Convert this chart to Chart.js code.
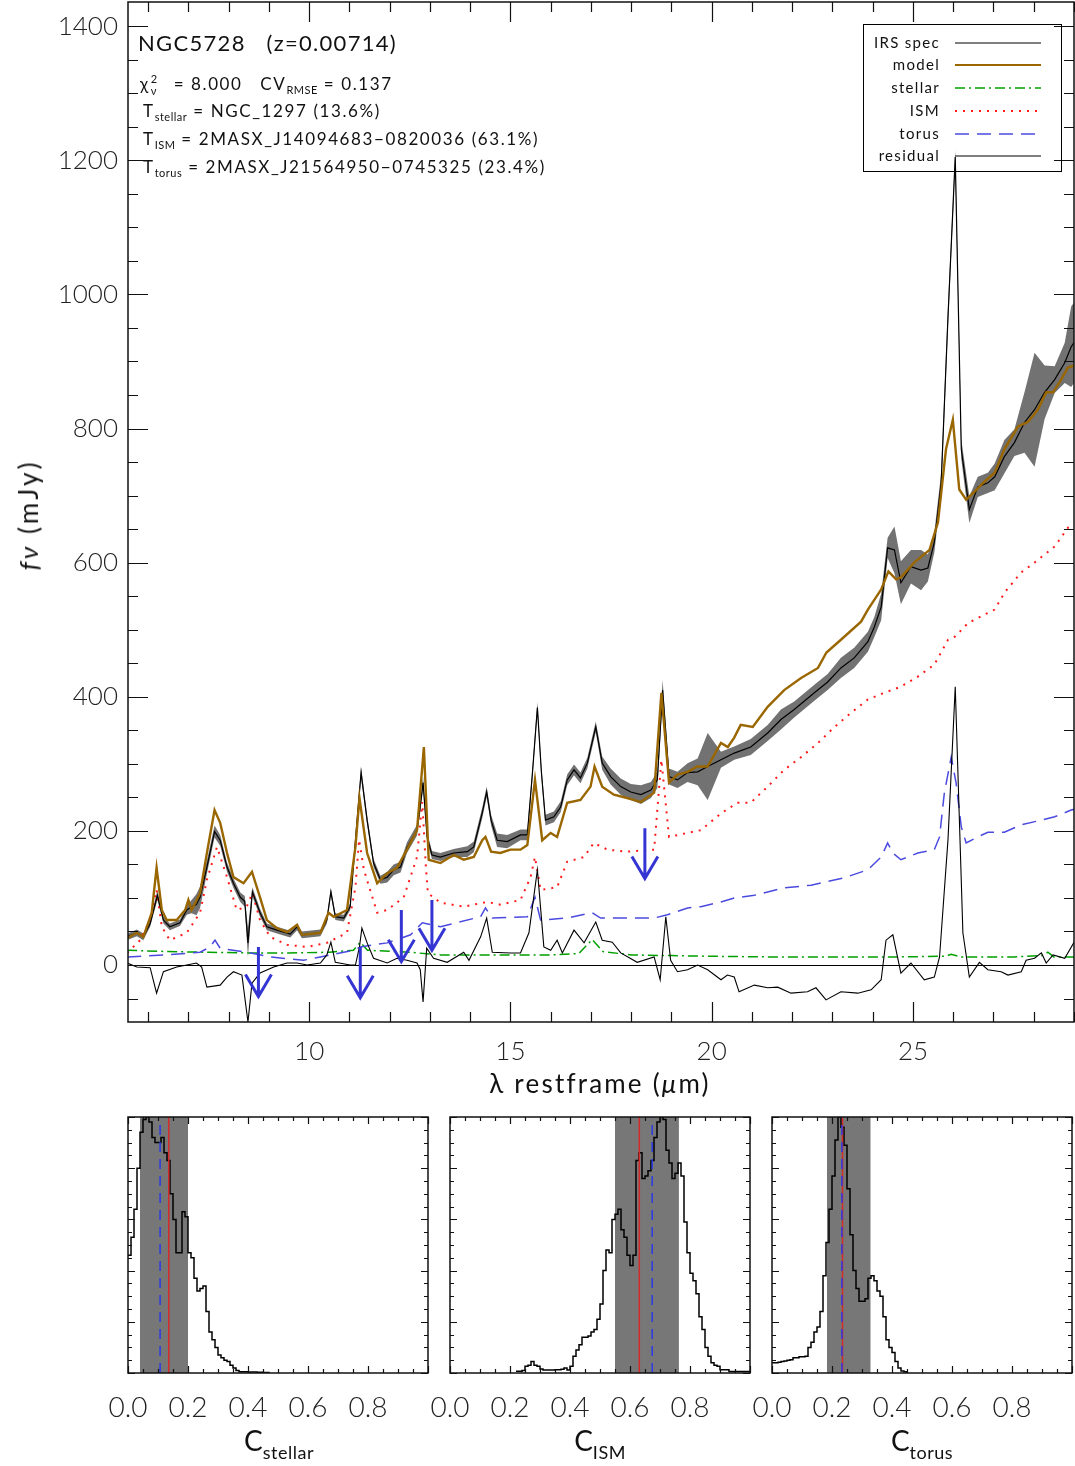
<!DOCTYPE html>
<html>
<head>
<meta charset="utf-8">
<script src="https://cdn.jsdelivr.net/npm/chart.js@4.4.1/dist/chart.umd.min.js"></script>
<style>
  body { margin: 0; background: #fff; width: 1075px; height: 1466px; overflow: hidden; position: relative;
         font-family: Lato, "DejaVu Sans", sans-serif; color: #111; }
  canvas { position: absolute; }
  .t { position: absolute; white-space: pre; line-height: 1; }
  .t sub { font-size: 11px; vertical-align: -4px; letter-spacing: 0.5px; }
  .big sub { font-size: 18px; vertical-align: -8px; }
  .info { font-size: 17px; letter-spacing: 1.6px; }
  .ss { display: inline-block; position: relative; width: 12px; height: 10px; }
  .ss span { position: absolute; left: 1px; font-size: 11px; }
  #legend { position: absolute; left: 863px; top: 24px; width: 197px; height: 146px; border: 1px solid #000; }
  #legend .lab { position: absolute; left: 0; width: 76px; text-align: right; font-size: 15px; line-height: 1; letter-spacing: 1.3px; }
  #legend svg { position: absolute; left: 91px; }
</style>
</head>
<body>
<canvas id="main" width="1075" height="1100" style="left:0;top:0"></canvas>
<canvas id="histStellar" width="333" height="330" style="left:98px;top:1100px"></canvas>
<canvas id="histIsm" width="333" height="330" style="left:420px;top:1100px"></canvas>
<canvas id="histTorus" width="333" height="330" style="left:742px;top:1100px"></canvas>

<div class="t" style="left:138px;top:32px;font-size:22px;letter-spacing:1.3px">NGC5728   (z=0.00714)</div>
<div class="t info" style="left:140px;top:75px">χ<span class="ss"><span style="top:-7px">2</span><span style="top:5px">ν</span></span>  = 8.000   CV<sub>RMSE</sub> = 0.137</div>
<div class="t info" style="left:143px;top:102px">T<sub>stellar</sub> = NGC_1297 (13.6%)</div>
<div class="t info" style="left:143px;top:130px">T<sub>ISM</sub> = 2MASX_J14094683−0820036 (63.1%)</div>
<div class="t info" style="left:143px;top:158px">T<sub>torus</sub> = 2MASX_J21564950−0745325 (23.4%)</div>

<div id="legend">
  <div class="lab" style="top:10px">IRS spec</div>
  <svg style="top:16px" width="86" height="4"><line x1="0" y1="2" x2="86" y2="2" stroke="#000" stroke-width="1.2"/></svg>
  <div class="lab" style="top:32px">model</div>
  <svg style="top:38px" width="86" height="4"><line x1="0" y1="2" x2="86" y2="2" stroke="#996600" stroke-width="2.2"/></svg>
  <div class="lab" style="top:55px">stellar</div>
  <svg style="top:61px" width="86" height="4"><line x1="0" y1="2" x2="86" y2="2" stroke="#00a000" stroke-width="1.5" stroke-dasharray="10 4 2 4"/></svg>
  <div class="lab" style="top:78px">ISM</div>
  <svg style="top:84px" width="86" height="4"><line x1="0" y1="2" x2="86" y2="2" stroke="#ff1a1a" stroke-width="2" stroke-dasharray="2 6"/></svg>
  <div class="lab" style="top:101px">torus</div>
  <svg style="top:107px" width="86" height="4"><line x1="0" y1="2" x2="86" y2="2" stroke="#4a4ae0" stroke-width="1.5" stroke-dasharray="14 8"/></svg>
  <div class="lab" style="top:123px">residual</div>
  <svg style="top:129px" width="86" height="4"><line x1="0" y1="2" x2="86" y2="2" stroke="#000" stroke-width="1.2"/></svg>
</div>

<div class="t" style="left:28px;top:515px;font-size:26px;letter-spacing:3px;transform:translate(-50%,-50%) rotate(-90deg)"><i>fν</i> (mJy)</div>
<div class="t" style="left:600px;top:1083px;font-size:26px;letter-spacing:2.2px;transform:translate(-50%,-50%)">λ restframe (<i>μ</i>m)</div>
<div class="t big" style="left:279px;top:1443px;font-size:28px;transform:translate(-50%,-50%)">C<sub>stellar</sub></div>
<div class="t big" style="left:600px;top:1443px;font-size:28px;transform:translate(-50%,-50%)">C<sub>ISM</sub></div>
<div class="t big" style="left:922px;top:1443px;font-size:28px;transform:translate(-50%,-50%)">C<sub>torus</sub></div>

<script>
// IRS spectrum (mJy) and its 1-sigma error
const irsWave = [5.48,5.72,5.88,6.05,6.23,6.38,6.54,6.79,6.96,7.08,
  7.20,7.29,7.46,7.65,7.79,7.96,8.12,8.29,8.40,8.48,
  8.59,8.78,8.95,9.20,9.53,9.70,9.82,10.28,10.44,10.54,
  10.65,10.86,11.02,11.17,11.29,11.44,11.60,11.77,11.94,12.10,
  12.27,12.43,12.68,12.76,12.83,12.93,13.05,13.26,13.59,13.93,
  14.09,14.30,14.41,14.52,14.67,14.92,15.25,15.42,15.54,15.67,
  15.77,15.87,16.08,16.25,16.41,16.58,16.74,16.91,17.12,17.28,
  17.49,17.74,17.99,18.24,18.49,18.65,18.78,18.94,19.15,19.40,
  19.65,19.90,20.23,20.56,20.97,21.39,21.72,22.05,22.55,22.88,
  23.21,23.54,23.88,24.04,24.21,24.37,24.54,24.70,24.95,25.20,
  25.37,25.53,25.70,25.87,26.05,26.20,26.40,26.61,26.86,27.03,
  27.27,27.52,27.77,28.02,28.27,28.52,28.77,28.93,29.06];
const irsFlux = [42,48,42,62,104,67,57,63,82,87,
  90,101,146,199,186,146,122,101,95,33,
  109,78,57,52,46,57,45,48,67,109,
  72,70,87,201,287,216,152,127,131,142,
  146,175,201,236,272,191,164,161,167,169,
  176,227,258,216,186,184,194,194,281,384,
  287,216,221,236,276,291,279,301,355,301,
  281,266,258,254,261,276,410,281,276,287,
  288,296,306,316,325,346,366,381,406,422,
  443,458,482,504,534,622,619,570,594,589,
  592,630,719,967,1205,769,679,713,719,728,
  758,779,809,828,854,873,898,922,933];
const irsErr = [5,5,5,5,7,5,5,5,7,10,
  16,16,10,9,8,7,7,7,8,22,
  7,6,5,5,5,5,5,5,5,5,
  5,5,5,7,8,7,6,6,8,8,
  8,8,8,8,9,7,6,6,6,8,
  8,8,8,8,10,10,8,8,8,8,
  8,8,8,8,8,8,8,8,8,10,
  12,12,12,14,12,12,15,12,12,14,
  20,50,12,10,12,12,15,12,12,12,
  15,15,15,15,20,15,35,32,25,30,
  20,15,15,15,10,15,20,15,15,20,
  25,20,45,85,40,20,30,60,60];

// best-fit model
const modelWave = [5.48,5.72,5.88,6.09,6.21,6.34,6.46,6.71,6.92,7.00,
  7.08,7.29,7.46,7.65,7.79,7.96,8.12,8.37,8.58,8.78,
  8.95,9.20,9.45,9.70,9.82,10.28,10.48,10.61,10.94,11.15,
  11.25,11.44,11.69,11.94,12.18,12.43,12.68,12.85,12.97,13.26,
  13.59,13.84,14.09,14.30,14.38,14.52,14.75,15.00,15.25,15.42,
  15.61,15.79,16.00,16.16,16.41,16.74,16.99,17.09,17.28,17.57,
  17.90,18.24,18.57,18.75,18.94,19.15,19.40,19.65,19.90,20.23,
  20.40,20.56,20.72,21.02,21.39,21.80,22.22,22.64,22.85,23.21,
  23.71,23.88,24.21,24.39,24.58,24.70,25.03,25.41,25.62,25.82,
  25.99,26.15,26.32,26.53,26.78,27.03,27.27,27.61,27.86,28.10,
  28.31,28.48,28.68,28.85,29.06];
const modelFlux = [40,48,42,78,145,82,67,67,82,97,
  82,107,167,231,212,167,131,122,139,101,
  67,55,49,60,45,48,78,72,82,176,
  249,167,122,137,145,172,201,325,157,152,
  164,157,161,186,191,169,167,172,172,179,
  276,186,197,191,242,246,266,296,266,254,
  249,243,257,406,272,284,288,296,296,331,
  325,339,358,355,385,410,428,443,466,485,
  512,530,560,587,575,578,600,619,660,769,
  813,709,694,706,721,734,769,803,810,828,
  854,854,873,891,895];

// components
const stellarWave = [5.48,6.50,7.50,8.50,9.50,10.50,11.10,11.27,11.45,12.50,
  13.26,14.50,16.00,16.70,17.03,17.30,18.00,19.00,20.00,21.50,
  23.00,24.50,25.80,25.95,26.20,27.50,28.20,28.35,28.50,29.06];
const stellarFlux = [22,20,19,18,18,19,22,34,22,19,
  15,15,15,17,38,20,15,14,13,12,
  12,12,13,16,12,12,14,19,12,12];

const ismWave = [5.48,5.80,6.05,6.21,6.34,6.54,6.96,7.29,7.46,7.71,
  7.96,8.20,8.45,8.59,8.78,9.03,9.45,9.95,10.44,10.94,
  11.15,11.24,11.36,11.69,11.94,12.35,12.68,12.81,12.90,12.95,
  13.26,13.84,14.42,14.75,15.25,15.50,15.61,15.75,16.16,16.41,
  16.83,17.07,17.41,17.90,18.57,18.75,18.94,19.40,19.73,20.23,
  20.64,20.97,21.39,21.80,22.22,22.64,23.05,23.46,23.88,24.29,
  24.70,25.12,25.53,25.87,26.05,26.37,26.86,27.03,27.27,27.68,
  28.02,28.52,28.85,29.06];
const ismFlux = [18,37,67,112,57,37,48,78,127,176,
  131,82,87,107,67,42,30,27,33,48,
  116,187,142,78,82,101,161,243,146,107,
  93,87,94,90,97,131,161,112,116,154,
  161,182,172,169,172,306,191,197,201,226,
  242,242,266,291,310,331,355,376,396,406,
  415,430,448,485,490,510,525,530,555,585,
  600,624,652,654];

const torusWave = [5.48,6.46,7.29,7.54,7.66,7.79,8.45,9.03,9.86,10.28,
  11.11,11.27,11.94,12.52,12.81,13.26,14.26,14.38,14.55,15.42,
  15.61,15.75,16.41,17.03,17.24,18.57,18.90,19.40,19.73,20.23,
  20.56,21.06,21.80,22.47,23.29,23.88,24.21,24.37,24.50,24.70,
  25.12,25.53,25.66,25.78,25.95,26.07,26.20,26.32,26.61,26.86,
  27.27,27.69,28.19,28.52,28.93,29.06];
const torusFlux = [12,15,19,27,37,25,19,12,7,12,
  22,27,33,45,63,57,72,85,70,72,
  101,67,70,78,70,70,75,85,87,94,
  100,104,115,119,130,142,161,182,167,157,
  167,172,191,257,310,272,206,182,191,198,
  198,209,216,221,231,233];

const residWave = [5.48,5.72,6.05,6.21,6.38,6.71,6.96,7.20,7.33,7.46,
  7.79,7.96,8.12,8.33,8.48,8.58,8.78,9.12,9.45,9.70,
  9.95,10.28,10.44,10.54,10.65,11.02,11.15,11.25,11.31,11.44,
  11.60,11.94,12.18,12.43,12.68,12.76,12.83,12.92,13.09,13.43,
  13.84,13.97,14.26,14.41,14.55,15.00,15.25,15.46,15.67,15.83,
  16.00,16.16,16.29,16.58,16.83,17.12,17.28,17.53,17.74,18.15,
  18.57,18.72,18.86,18.98,19.15,19.40,19.65,19.90,20.23,20.39,
  20.56,20.68,21.06,21.39,21.64,21.97,22.38,22.59,22.84,23.21,
  23.63,23.96,24.21,24.33,24.50,24.70,24.95,25.28,25.53,25.66,
  25.87,26.05,26.24,26.40,26.65,26.86,27.19,27.36,27.69,27.81,
  28.02,28.19,28.31,28.48,28.77,29.06];
const residFlux = [3,-3,-4,-42,-10,-3,0,3,-3,-33,
  -30,-18,-10,-15,-85,-27,-12,-3,3,3,
  0,3,15,34,4,0,0,27,55,33,
  10,3,10,7,3,-7,-55,25,10,4,
  19,7,42,70,19,18,18,48,142,27,
  22,37,18,52,33,64,37,34,18,4,
  12,-22,72,7,-10,-7,0,-7,-22,-15,
  -18,-40,-30,-34,-33,-42,-40,-34,-52,-40,
  -42,-37,-22,37,45,-12,3,-22,-18,12,
  187,415,48,-18,4,-7,-10,-15,-10,7,
  10,18,3,15,10,40];

// line markers (blue arrows)
const arrowWave = [8.74, 11.27, 12.29, 13.05, 18.34];
const arrowTop = [27, 27, 82, 97, 204];
const arrowTip = [-47, -49, 5, 22, 129];

const xTickValues = [10, 15, 20, 25];
const yTickValues = [0, 200, 400, 600, 800, 1000, 1200, 1400];

// posterior histograms of the component fractions (normalised to peak)
const histBin = 0.01;
const histTicks = [0.0, 0.2, 0.4, 0.6, 0.8];
const stellarHistStart = 0.0;
const stellarHist = [0.46,0.53,0.64,0.80,0.94,0.99,1.00,0.98,0.92,0.90,
  0.90,0.92,0.86,0.83,0.70,0.60,0.47,0.47,0.63,0.61,
  0.47,0.45,0.37,0.32,0.33,0.34,0.24,0.16,0.13,0.10,
  0.07,0.06,0.05,0.045,0.03,0.02,0.01,0.005,0.005,0.005,
  0.004,0.004,0.004,0.003,0.003,0.002,0.002];
const ismHistStart = 0.22;
const ismHist = [0.007,0.007,0.01,0.026,0.03,0.045,0.03,0.026,0.016,0.012,
  0.012,0.012,0.012,0.013,0.013,0.015,0.02,0.012,0.026,0.065,
  0.09,0.11,0.14,0.14,0.145,0.16,0.17,0.21,0.27,0.40,
  0.48,0.47,0.60,0.62,0.64,0.56,0.53,0.46,0.42,0.46,
  0.83,0.86,0.76,0.77,0.79,0.83,0.92,0.98,1.00,0.99,
  0.87,0.82,0.76,0.78,0.82,0.77,0.59,0.47,0.39,0.36,
  0.31,0.22,0.17,0.10,0.065,0.04,0.03,0.026,0.013,0.013,
  0.013,0.006,0.006,0.006,0.006,0.006,0.006,0.006];
const torusHistStart = 0.0;
const torusHist = [0.04,0.04,0.042,0.045,0.047,0.05,0.052,0.06,0.06,0.063,
  0.063,0.065,0.10,0.12,0.16,0.18,0.24,0.38,0.51,0.64,
  0.77,0.91,1.00,0.96,0.89,0.72,0.54,0.40,0.33,0.28,
  0.28,0.29,0.37,0.38,0.36,0.32,0.30,0.22,0.13,0.10,
  0.08,0.045,0.02,0.008,0.005];
// shaded interval, best fit (red) and median (blue dashed)
const stellarRange = [0.04, 0.20], stellarBest = 0.136, stellarMedian = 0.107;
const ismRange = [0.55, 0.763], ismBest = 0.631, ismMedian = 0.674;
const torusRange = [0.183, 0.329], torusBest = 0.235, torusMedian = 0.233;

const FONT = 'Lato, "DejaVu Sans", sans-serif';
Chart.defaults.font.family = FONT;
Chart.defaults.color = '#222';

const pts = (xs, ys) => xs.map((x, i) => ({ x: x, y: ys[i] }));
const isMajor = (i, r) => ((i % r) + r) % r === 0;

// inward ticks on all four sides plus the frame
const tickFrame = {
  id: 'tickFrame',
  afterDraw(chart, args, o) {
    const { ctx, chartArea: a, scales: { x, y } } = chart;
    ctx.save();
    ctx.strokeStyle = '#111';
    ctx.lineWidth = 1.2;
    ctx.beginPath();
    const xr = Math.round(o.xMajor / o.xMinor);
    for (let i = Math.ceil(x.min / o.xMinor - 1e-6); i <= Math.floor(x.max / o.xMinor + 1e-6); i++) {
      const px = Math.round(x.getPixelForValue(i * o.xMinor)) + 0.5;
      const len = isMajor(i, xr) ? o.major : o.minor;
      ctx.moveTo(px, a.bottom); ctx.lineTo(px, a.bottom - len);
      ctx.moveTo(px, a.top); ctx.lineTo(px, a.top + len);
    }
    const yr = Math.round(o.yMajor / o.yMinor);
    for (let i = Math.ceil(y.min / o.yMinor - 1e-6); i <= Math.floor(y.max / o.yMinor + 1e-6); i++) {
      const py = Math.round(y.getPixelForValue(i * o.yMinor)) + 0.5;
      const len = isMajor(i, yr) ? o.major : o.minor;
      ctx.moveTo(a.left, py); ctx.lineTo(a.left + len, py);
      ctx.moveTo(a.right, py); ctx.lineTo(a.right - len, py);
    }
    ctx.stroke();
    ctx.lineWidth = 1.5;
    ctx.strokeRect(a.left, a.top, a.right - a.left, a.bottom - a.top);
    ctx.restore();
  }
};

// zero line and the blue line-marker arrows
const overlay = {
  id: 'overlay',
  beforeDatasetsDraw(chart) {
    const { ctx, chartArea: a, scales: { y } } = chart;
    const y0 = Math.round(y.getPixelForValue(0)) + 0.5;
    ctx.save();
    ctx.strokeStyle = '#000';
    ctx.lineWidth = 1.2;
    ctx.beginPath(); ctx.moveTo(a.left, y0); ctx.lineTo(a.right, y0); ctx.stroke();
    ctx.restore();
  },
  afterDatasetsDraw(chart) {
    const { ctx, scales: { x, y } } = chart;
    ctx.save();
    ctx.strokeStyle = '#3535d4';
    ctx.lineWidth = 3;
    arrowWave.forEach((w, i) => {
      const px = x.getPixelForValue(w);
      const top = y.getPixelForValue(arrowTop[i]);
      const tip = y.getPixelForValue(arrowTip[i]);
      ctx.beginPath();
      ctx.moveTo(px, top); ctx.lineTo(px, tip);
      ctx.moveTo(px - 13, tip - 22); ctx.lineTo(px, tip); ctx.lineTo(px + 13, tip - 22);
      ctx.stroke();
    });
    ctx.restore();
  }
};

const hidden = 'rgba(0,0,0,0)';
const line = (data, color, width, extra) => Object.assign({
  data: data, borderColor: color, borderWidth: width, pointRadius: 0, fill: false, tension: 0
}, extra || {});

new Chart(document.getElementById('main'), {
  type: 'line',
  data: {
    datasets: [
      line(pts(irsWave, irsFlux.map((v, i) => v + irsErr[i])), hidden, 1, { order: 9 }),
      line(pts(irsWave, irsFlux.map((v, i) => v - irsErr[i])), hidden, 1, { order: 8, fill: '-1', backgroundColor: '#727272' }),
      line(pts(ismWave, ismFlux), '#ff1a1a', 2, { order: 6, borderDash: [2, 6] }),
      line(pts(torusWave, torusFlux), '#4a4ae0', 1.5, { order: 6, borderDash: [14, 8] }),
      line(pts(stellarWave, stellarFlux), '#00a000', 1.5, { order: 6, borderDash: [10, 4, 2, 4] }),
      line(pts(residWave, residFlux), '#000', 1.1, { order: 5 }),
      line(pts(irsWave, irsFlux), '#000', 1.2, { order: 2 }),
      line(pts(modelWave, modelFlux), '#996600', 2.4, { order: 1 })
    ]
  },
  options: {
    responsive: false,
    animation: false,
    layout: { padding: { top: 2, right: 1, left: 0, bottom: 0 } },
    plugins: {
      legend: { display: false },
      tooltip: { enabled: false },
      tickFrame: { xMinor: 1, xMajor: 5, yMinor: 50, yMajor: 200, major: 20, minor: 10 }
    },
    scales: {
      x: {
        type: 'linear', min: 5.5, max: 29.0,
        grid: { display: false, drawTicks: false }, border: { display: false },
        ticks: { font: { size: 26, weight: 300 }, padding: 14, maxRotation: 0, autoSkip: false,
                 callback: v => String(v) },
        afterBuildTicks: s => { s.ticks = xTickValues.map(v => ({ value: v })); },
        afterFit: s => { s.height = 78; s.paddingLeft = 0; s.paddingRight = 0; }
      },
      y: {
        type: 'linear', min: -85, max: 1436,
        grid: { display: false, drawTicks: false }, border: { display: false },
        ticks: { font: { size: 26, weight: 300 }, padding: 10, autoSkip: false, callback: v => String(v) },
        afterBuildTicks: s => { s.ticks = yTickValues.map(v => ({ value: v })); },
        afterFit: s => { s.width = 128; s.paddingTop = 0; s.paddingBottom = 0; }
      }
    }
  },
  plugins: [overlay, tickFrame]
});

function histChart(id, start, values, range, best, median) {
  const steps = values.map((v, i) => ({ x: start + i * histBin, y: v }));
  steps.push({ x: start + values.length * histBin, y: 0 });
  new Chart(document.getElementById(id), {
    type: 'line',
    data: {
      datasets: [
        line([{ x: range[0], y: 1 }, { x: range[1], y: 1 }], hidden, 1, { order: 9, fill: 'start', backgroundColor: '#777777' }),
        line(steps, '#000', 1.5, { order: 4, stepped: 'before' }),
        line([{ x: best, y: 0 }, { x: best, y: 1 }], '#d42a2a', 1.5, { order: 3 }),
        line([{ x: median, y: 0 }, { x: median, y: 1 }], '#2a3ae6', 1.5, { order: 2, borderDash: [10, 7] })
      ]
    },
    options: {
      responsive: false,
      animation: false,
      layout: { padding: { top: 17, right: 3, left: 0, bottom: 0 } },
      plugins: {
        legend: { display: false },
        tooltip: { enabled: false },
        tickFrame: { xMinor: 0.05, xMajor: 0.2, yMinor: 0.05, yMajor: 0.2, major: 7, minor: 4 }
      },
      scales: {
        x: {
          type: 'linear', min: 0, max: 1,
          grid: { display: false, drawTicks: false }, border: { display: false },
          ticks: { font: { size: 28, weight: 300 }, padding: 18, maxRotation: 0, autoSkip: false,
                   callback: v => Number(v).toFixed(1) },
          afterBuildTicks: s => { s.ticks = histTicks.map(v => ({ value: v })); },
          afterFit: s => { s.height = 57; s.paddingLeft = 0; s.paddingRight = 0; }
        },
        y: {
          type: 'linear', min: 0, max: 1,
          grid: { display: false, drawTicks: false }, border: { display: false },
          ticks: { display: false },
          afterFit: s => { s.width = 30; s.paddingTop = 0; s.paddingBottom = 0; }
        }
      }
    },
    plugins: [tickFrame]
  });
}

histChart('histStellar', stellarHistStart, stellarHist, stellarRange, stellarBest, stellarMedian);
histChart('histIsm', ismHistStart, ismHist, ismRange, ismBest, ismMedian);
histChart('histTorus', torusHistStart, torusHist, torusRange, torusBest, torusMedian);
</script>
</body>
</html>
